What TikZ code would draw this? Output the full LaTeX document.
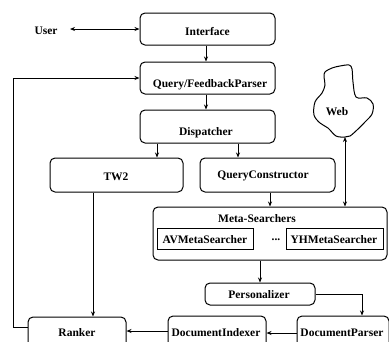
\documentclass[tikz,border=0pt]{standalone}
\usepackage{fontspec}
\setmainfont{Liberation Serif}
\usetikzlibrary{arrows.meta}
\begin{document}
\begin{tikzpicture}[x=1pt,y=-1pt,
  box/.style={draw, rounded corners=5pt, line width=1pt, inner sep=0pt},
  sbox/.style={draw, line width=1pt, inner sep=0pt},
  txt/.style={inner sep=0pt, font=\fontsize{11.5}{13}\selectfont\bfseries},
  conn/.style={line width=1pt, -{Stealth[length=5pt,width=4pt]}},
  dconn/.style={line width=1pt, {Stealth[length=5pt,width=4pt]}-{Stealth[length=5pt,width=4pt]}}]
\useasboundingbox (0,0) rectangle (389,341);
% boxes
\node[box, minimum width=135, minimum height=32] (iface) at (207.5,29) {};
\node[txt] (ifacet) at (207.5,32) {Interface};
\node[box, minimum width=135, minimum height=32] (qfp) at (207.5,78) {};
\node[txt] (qfpt) at (210,85) {Query/FeedbackParser};
\node[box, minimum width=135, minimum height=33] (disp) at (207.5,126.5) {};
\node[txt] (dispt) at (206,133) {Dispatcher};
\node[box, minimum width=133, minimum height=34] (tw2) at (116.5,175) {};
\node[txt] (tw2t) at (116,177) {TW2};
\node[box, minimum width=135, minimum height=34] (qc) at (267.5,175) {};
\node[txt] (qct) at (263,176) {QueryConstructor};
\node[box, minimum width=234, minimum height=53] (ms) at (270,233.5) {};
\node[txt] (mst) at (257,219) {Meta-Searchers};
\node[sbox, minimum width=96, minimum height=21] (av) at (205,238.5) {};
\node[txt] (avt) at (205,240) {AVMetaSearcher};
\node[txt] (dots) at (276,240) {...};
\node[sbox, minimum width=97, minimum height=21] (yh) at (334.5,238.5) {};
\node[txt] (yht) at (334,240) {YHMetaSearcher};
\node[box, minimum width=110, minimum height=22] (pers) at (260,294) {};
\node[txt] (perst) at (259,295) {Personalizer};
\node[box, minimum width=92, minimum height=32] (dp) at (343,332) {};
\node[txt] (dpt) at (342,333) {DocumentParser};
\node[box, minimum width=98, minimum height=32] (di) at (217,332) {};
\node[txt] (dit) at (216,333) {DocumentIndexer};
\node[box, minimum width=98, minimum height=32] (rk) at (77,333) {};
\node[txt] (rkt) at (77,333) {Ranker};
\node[txt] (user) at (46,31) {User};
\coordinate (userend) at (70,29);
% web cloud
\draw[line width=1pt] plot[smooth cycle, tension=0.55] coordinates {
 (325,72) (332,68) (340,66) (349,65) (352,69) (353,82) (356,97) (367,98)
 (373,104) (372,114) (365,122) (357,130) (350,136) (345,137) (336,136)
 (328,128) (320,123) (314,115) (315,102) (322,93) (325,85) (324,77)};
\coordinate (web) at (345,137);
\node[txt] (webt) at (337,112) {Web};
% connectors
\draw[dconn] (userend) -- (iface.west);
\draw[conn] (iface.south -| 206,0) -- (qfp.north -| 206,0);
\draw[conn] (qfp.south -| 206,0) -- (disp.north -| 206,0);
\draw[conn] (disp.south -| 157,0) -- (tw2.north -| 157,0);
\draw[conn] (disp.south -| 238,0) -- (qc.north -| 238,0);
\draw[conn] (tw2.south -| 93,0) -- (rk.north -| 93,0);
\draw[conn] (qc.south -| 270,0) -- (ms.north -| 270,0);
\draw[dconn] (web) -- (ms.north -| web);
\draw[conn] (ms.south -| 260,0) -- (pers.north -| 260,0);
\draw[conn] (pers.east) -| (dp.north -| 362,0);
\draw[conn] (dp.west |- 0,333) -- (di.east |- 0,333);
\draw[conn] (di.west |- 0,331) -- (rk.east |- 0,331);
\draw[conn] (rk.west |- 0,327) -- (13,327) -- (13,78) -- (qfp.west);
\end{tikzpicture}
\end{document}
